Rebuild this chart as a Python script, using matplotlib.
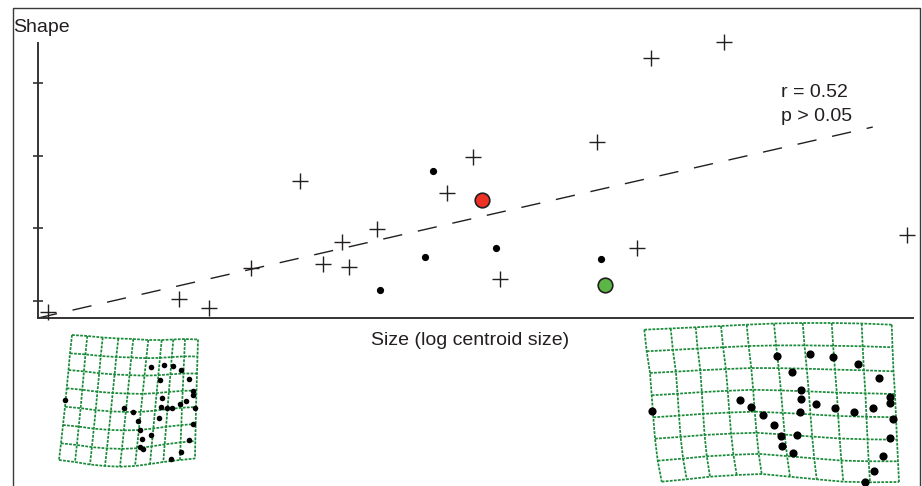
import numpy as np
import matplotlib
matplotlib.use("Agg")
import matplotlib.pyplot as plt
from matplotlib.lines import Line2D

plt.rcParams['font.family'] = ['Liberation Sans', 'DejaVu Sans']

W, H, DPI = 922, 486, 100
INK = '#231f20'
GRID_GREEN = '#188a38'

# ---------------- scatter data ----------------
plus_size = [4.011, 4.161, 4.195, 4.243, 4.299, 4.326, 4.355, 4.347, 4.387,
             4.467, 4.497, 4.639, 4.701, 4.784, 4.685, 4.528, 4.993]
plus_shape = [0.085, 0.103, 0.090, 0.145, 0.265, 0.151, 0.147, 0.181, 0.199,
              0.249, 0.298, 0.319, 0.434, 0.456, 0.173, 0.130, 0.191]
dot_size = [4.451, 4.442, 4.391, 4.523, 4.643]
dot_shape = [0.279, 0.161, 0.115, 0.173, 0.158]
red_size, red_shape = [4.507], [0.239]
green_size, green_shape = [4.648], [0.122]
fit_size = [4.0, 4.954]
fit_shape = [0.0766, 0.3393]
shape_ticks = [0.1, 0.2, 0.3, 0.4]
stats_lines = ["r = 0.52", "p > 0.05"]

# ---------------- deformation grid (small specimen) ----------------
gA_top_x = [22, 37.3, 52.7, 68.3, 83.3, 98.3, 111.7, 123.3, 135, 148]
gA_top_y = [10, 11, 12.5, 13.5, 14, 15, 15, 14.5, 14, 14.5]
gA_bot_x = [9, 25, 40, 55, 70, 85, 100, 113.3, 130, 145]
gA_bot_y = [135, 137, 139.5, 141, 141.7, 141, 139, 137, 135, 133.5]
gA_left_x = [22, 20, 18.5, 16.7, 15, 13, 11, 9]
gA_left_y = [10, 28.3, 45, 63.3, 81.7, 100, 118.3, 135]
gA_right_x = [148, 147.5, 147, 146.5, 146, 145.7, 145.3, 145]
gA_right_y = [14.5, 31.5, 48.5, 65.5, 82, 99, 116, 133.5]
gA_lm_x = [15, 74.3, 82.5, 87.5, 90.3, 91.5, 90, 92.5, 101, 109.2, 111, 111.7,
           116.5, 122.2, 129.7, 136, 142.7, 142.7, 145.2, 143.3, 139.3, 131.2,
           120.7, 138.7, 131.3, 123.3, 114.2, 101, 110]
gA_lm_y = [74.5, 82.5, 86.7, 95.5, 105.2, 114, 121.8, 123.5, 109.8, 93, 82, 72.8,
           83.3, 82.7, 78.5, 75.7, 69.8, 65.8, 82.5, 99.3, 114.7, 126.7,
           133.8, 53.7, 44.7, 40.5, 40, 42.3, 55.2]

# ---------------- deformation grid (large specimen) ----------------
gB_top_x = [9.3, 35.7, 60.7, 86, 111.7, 139, 167.7, 196.7, 226.7, 256.7]
gB_top_y = [11.7, 10.5, 9.3, 8, 6.7, 5.5, 5, 5, 5.5, 6.7]
gB_bot_x = [26.7, 51.7, 75, 101.7, 126.7, 155, 181.7, 208.3, 235, 264]
gB_bot_y = [163.7, 161.3, 158.7, 157, 156, 158.7, 161.3, 163.7, 164.3, 164]
gB_left_x = [9.3, 11.7, 15, 16.7, 18.3, 20, 22.7, 26.7]
gB_left_y = [11.7, 33.3, 55, 77.3, 99.3, 120.7, 142.7, 163.7]
gB_right_x = [256.7, 257.5, 258.5, 260, 261, 262, 263, 264]
gB_right_y = [6.7, 29.3, 53.3, 76, 99.3, 121.7, 143.3, 164]
gB_lm_x = [17.3, 105, 116, 128, 138.7, 145.7, 146.7, 157.7, 162.3, 165.3, 166.3,
           166.3, 157.3, 141.7, 175.3, 198.3, 222.7, 243.7, 254.7, 254.7, 257.7,
           254.7, 247.7, 238.7, 230, 237.7, 219, 200.3, 181.3]
gB_lm_y = [92.7, 82, 89, 96.7, 106.7, 118.3, 128.3, 135, 116.7, 94, 81.3,
           72.3, 53.7, 37.7, 36, 39, 45.7, 59.7, 78.7, 85, 100.7,
           120.3, 138, 152.7, 164.3, 90, 93.7, 90, 86]


def fig_rect(x0, y0, x1, y1):
    """pixel box (top-left origin) -> figure fraction rect"""
    return [x0 / W, 1 - y1 / H, (x1 - x0) / W, (y1 - y0) / H]


def coons(top, bot, left, right):
    top, bot, left, right = map(np.asarray, (top, bot, left, right))
    nu, nv = len(top), len(left)
    u = np.linspace(0, 1, nu)[None, :, None]
    v = np.linspace(0, 1, nv)[:, None, None]
    T = top[None, :, :]
    B = bot[None, :, :]
    L = left[:, None, :]
    R = right[:, None, :]
    P = ((1 - v) * T + v * B + (1 - u) * L + u * R
         - ((1 - u) * (1 - v) * top[0] + u * (1 - v) * top[-1]
            + (1 - u) * v * bot[0] + u * v * bot[-1]))
    return P


def draw_grid(ax, tx, ty, bx, by, lx, ly, rx, ry, lmx, lmy, dot_ms):
    P = coons(np.c_[tx, ty], np.c_[bx, by], np.c_[lx, ly], np.c_[rx, ry])
    style = dict(color=GRID_GREEN, lw=1.25, linestyle=(0, (1.6, 0.75)),
                 solid_capstyle='butt', dash_capstyle='butt')
    for j in range(P.shape[0]):
        ax.plot(P[j, :, 0], P[j, :, 1], **style)
    for i in range(P.shape[1]):
        ax.plot(P[:, i, 0], P[:, i, 1], **style)
    ax.plot(lmx, lmy, 'o', color='black', ms=dot_ms, mew=0, zorder=5)


fig = plt.figure(figsize=(W / DPI, H / DPI), dpi=DPI)

# outer frame (left, top, right; open at bottom)
fx0, fx1, fyt = 12.5 / W, 919.5 / W, 1 - 8.5 / H
fig.add_artist(Line2D([fx0, fx0, fx1, fx1], [0, fyt, fyt, 0],
                      transform=fig.transFigure, color='#3a3a3a', lw=1.0))

# main scatter axes
ax = fig.add_axes(fig_rect(38, 43, 913, 318))
ax.set_xlim(4.0, 5.0)
ax.set_ylim(0.0766, 0.4549)
ax.patch.set_alpha(0)
for s in ('top', 'right'):
    ax.spines[s].set_visible(False)
for s in ('left', 'bottom'):
    ax.spines[s].set_color('#333333')
    ax.spines[s].set_linewidth(1.4)
ax.set_xticks([])
ax.set_yticks(shape_ticks)
ax.set_yticklabels([])
ax.tick_params(axis='y', direction='inout', length=7.5, width=1.2, color='#333333')

ax.plot(fit_size, fit_shape, color=INK, lw=1.0, dashes=(14, 11.5), clip_on=False)
ax.plot(plus_size, plus_shape, '+', color=INK, ms=11, mew=1.0, clip_on=False, zorder=4)
ax.plot(dot_size, dot_shape, 'o', color='black', ms=5.2, mew=0, clip_on=False, zorder=4)
ax.plot(red_size, red_shape, 'o', mfc='#ee3124', mec=INK, ms=10.5, mew=1.2, clip_on=False, zorder=5)
ax.plot(green_size, green_shape, 'o', mfc='#5bb646', mec=INK, ms=10.5, mew=1.2, clip_on=False, zorder=5)

# texts
fig.text(13 / W, 1 - 32 / H, "Shape", fontsize=14, color=INK, va='baseline', ha='left')
fig.text(470 / W, 1 - 345 / H, "Size (log centroid size)", fontsize=14, color=INK,
         va='baseline', ha='center')
for k, line in enumerate(stats_lines):
    fig.text(781 / W, 1 - (97 + 24 * k) / H, line, fontsize=14, color=INK,
             va='baseline', ha='left')

# deformation grids
axA = fig.add_axes(fig_rect(50, 325, 210, 475))
axA.set_xlim(0, 160)
axA.set_ylim(150, 0)
axA.axis('off')
draw_grid(axA, gA_top_x, gA_top_y, gA_bot_x, gA_bot_y, gA_left_x, gA_left_y,
          gA_right_x, gA_right_y, gA_lm_x, gA_lm_y, 4.0)

axB = fig.add_axes(fig_rect(635, 318, 915, 486))
axB.set_xlim(0, 280)
axB.set_ylim(168, 0)
axB.axis('off')
draw_grid(axB, gB_top_x, gB_top_y, gB_bot_x, gB_bot_y, gB_left_x, gB_left_y,
          gB_right_x, gB_right_y, gB_lm_x, gB_lm_y, 5.9)
for a in (axA, axB):
    for ln in a.lines:
        ln.set_clip_on(False)

fig.savefig("out.png", dpi=DPI)
